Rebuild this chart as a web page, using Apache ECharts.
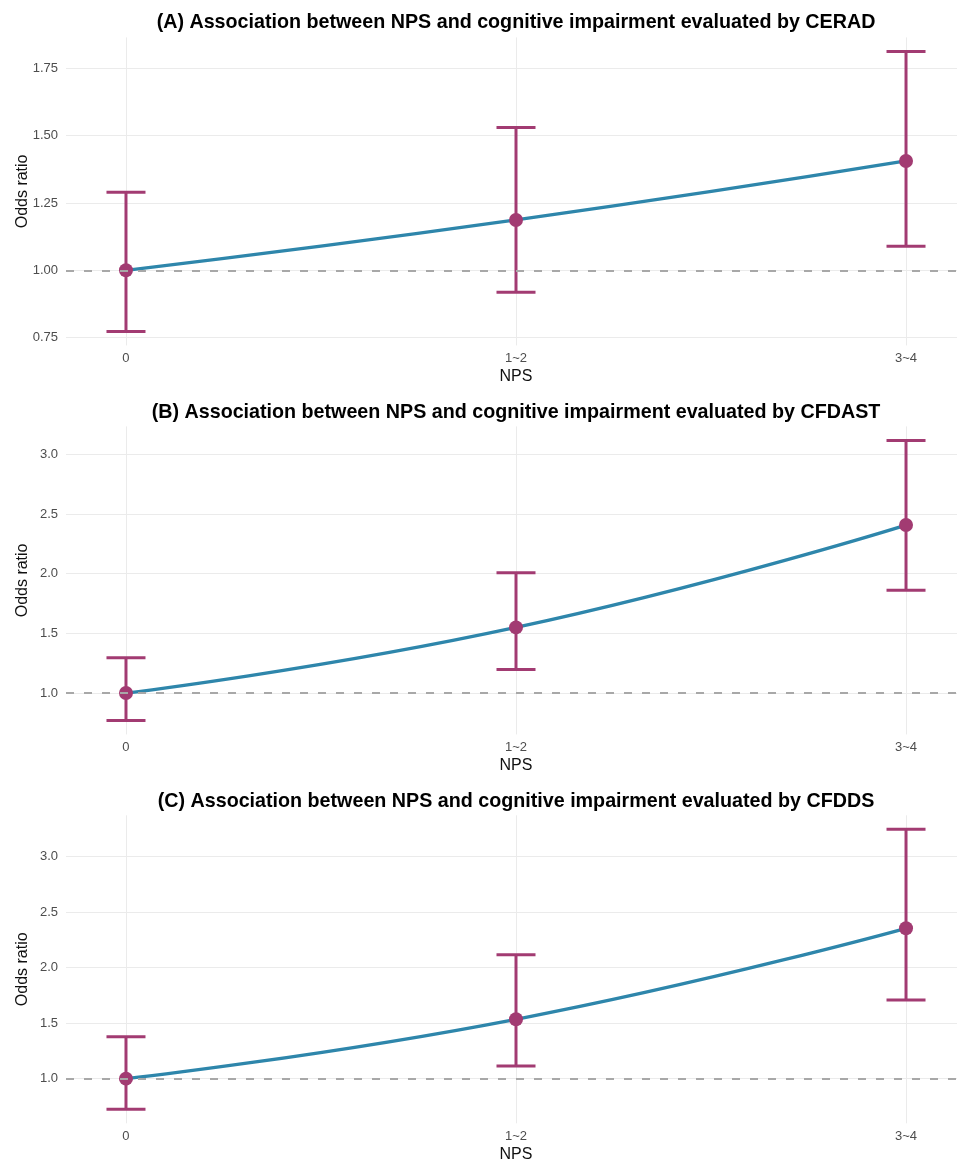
<!DOCTYPE html>
<html>
<head>
<meta charset="utf-8">
<script src="https://cdn.jsdelivr.net/npm/echarts@6/dist/echarts.min.js"></script>
<style>
html,body{margin:0;padding:0;background:#fff;overflow:hidden;}
#c{width:957px;height:1159px;}
</style>
</head>
<body>
<div id="c"></div>
<script>
// ---- data ----
const categories = ['0', '1~2', '3~4'];
const titles = [
  '(A) Association between NPS and cognitive impairment evaluated by CERAD',
  '(B) Association between NPS and cognitive impairment evaluated by CFDAST',
  '(C) Association between NPS and cognitive impairment evaluated by CFDDS'
];
const orA = [1.00, 1.187, 1.406];
const lowA = [0.773, 0.918, 1.089];
const upA = [1.290, 1.530, 1.813];
const orB = [1.00, 1.550, 2.407];
const lowB = [0.771, 1.198, 1.860];
const upB = [1.296, 2.007, 3.116];
const orC = [1.00, 1.535, 2.355];
const lowC = [0.724, 1.114, 1.709];
const upC = [1.378, 2.117, 3.247];
const ticksA = [0.75, 1.00, 1.25, 1.50, 1.75];
const tickLabelsA = ['0.75', '1.00', '1.25', '1.50', '1.75'];
const ticksB = [1.0, 1.5, 2.0, 2.5, 3.0];
const tickLabelsB = ['1.0', '1.5', '2.0', '2.5', '3.0'];
const ticksC = [1.0, 1.5, 2.0, 2.5, 3.0];
const tickLabelsC = ['1.0', '1.5', '2.0', '2.5', '3.0'];
const xValues = [0, 1, 2];

const panels = [
  {or: orA, low: lowA, up: upA, ticks: ticksA, labels: tickLabelsA},
  {or: orB, low: lowB, up: upB, ticks: ticksB, labels: tickLabelsB},
  {or: orC, low: lowC, up: upC, ticks: ticksC, labels: tickLabelsC}
];

// ---- styles / layout ----
const FONT = '"Liberation Sans", Arial, Helvetica, sans-serif';
const BAR = '#A23B72';
const LINE = '#2E86AB';
const GRIDC = '#EBEBEB';
const gridTops = [37.4, 426.4, 815.3];
const titleTops = [8, 398, 787];
const gridH = 308;

const option = {
  backgroundColor: '#ffffff',
  animation: false,
  title: [], grid: [], xAxis: [], yAxis: [], series: []
};

panels.forEach((p, i) => {
  const lo = Math.min(...p.low), hi = Math.max(...p.up);
  const pad = (hi - lo) * 0.05;
  option.title.push({
    text: titles[i], left: 511, top: titleTops[i], textAlign: 'center',
    textStyle: {fontFamily: FONT, fontSize: 19.7, fontWeight: 'bold', color: '#000'}
  });
  option.grid.push({left: 66, top: gridTops[i], width: 900, height: gridH,
    containLabel: false, outerBoundsMode: 'none'});
  option.xAxis.push({
    type: 'value', gridIndex: i, min: -0.1538, max: 2.1538,
    name: 'NPS', nameLocation: 'middle', nameGap: 23, nameMoveOverlap: false,
    nameTextStyle: {fontFamily: FONT, fontSize: 16, color: '#111'},
    axisLine: {show: false},
    axisTick: {show: false, customValues: xValues},
    axisLabel: {customValues: xValues, margin: 7, fontFamily: FONT, fontSize: 13, color: '#4D4D4D',
      formatter: v => categories[Math.round(v)]},
    splitLine: {show: true, lineStyle: {color: GRIDC, width: 1}}
  });
  option.yAxis.push({
    type: 'value', gridIndex: i, min: lo - pad, max: hi + pad,
    name: 'Odds ratio', nameLocation: 'middle', nameGap: 35, nameMoveOverlap: false,
    nameTextStyle: {fontFamily: FONT, fontSize: 16, color: '#111'},
    axisLine: {show: false},
    axisTick: {show: false, customValues: p.ticks},
    axisLabel: {customValues: p.ticks, margin: 8, fontFamily: FONT, fontSize: 13, color: '#4D4D4D',
      formatter: v => { const k = p.ticks.findIndex(t => Math.abs(t - v) < 1e-6); return k >= 0 ? p.labels[k] : ''; }},
    splitLine: {show: true, lineStyle: {color: GRIDC, width: 1}}
  });
  // error bars
  option.series.push({
    type: 'custom', xAxisIndex: i, yAxisIndex: i, z: 2,
    data: xValues.map((x, k) => [x, p.low[k], p.up[k]]),
    renderItem: (params, api) => {
      const x = api.value(0);
      const a = api.coord([x, api.value(1)]);
      const b = api.coord([x, api.value(2)]);
      const hw = api.size([0.1, 0])[0] / 2;
      const st = {stroke: BAR, lineWidth: 3};
      return {type: 'group', children: [
        {type: 'line', shape: {x1: a[0], y1: a[1], x2: b[0], y2: b[1]}, style: st},
        {type: 'line', shape: {x1: a[0] - hw, y1: a[1], x2: a[0] + hw, y2: a[1]}, style: st},
        {type: 'line', shape: {x1: b[0] - hw, y1: b[1], x2: b[0] + hw, y2: b[1]}, style: st}
      ]};
    }
  });
  // curve
  option.series.push({
    type: 'line', xAxisIndex: i, yAxisIndex: i, z: 3, smooth: 0.5,
    showSymbol: false, data: xValues.map((x, k) => [x, p.or[k]]),
    lineStyle: {color: LINE, width: 3.3}
  });
  // points
  option.series.push({
    type: 'scatter', xAxisIndex: i, yAxisIndex: i, z: 4, symbolSize: 14,
    data: xValues.map((x, k) => [x, p.or[k]]),
    itemStyle: {color: BAR, opacity: 1}
  });
  // reference line
  option.series.push({
    type: 'line', xAxisIndex: i, yAxisIndex: i, z: 6, showSymbol: false,
    data: [[0, 1]], lineStyle: {width: 0},
    markLine: {silent: true, symbol: 'none', label: {show: false},
      lineStyle: {color: '#A8A8A8', width: 2, type: [8, 10]},
      data: [{yAxis: 1}]}
  });
});

const chart = echarts.init(document.getElementById('c'), null, {renderer: 'canvas'});
chart.setOption(option);
</script>
</body>
</html>
